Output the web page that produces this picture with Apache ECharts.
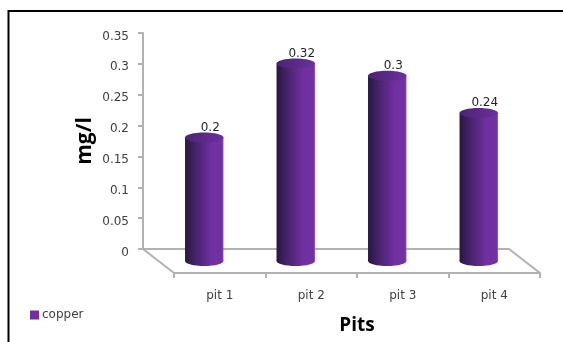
<!DOCTYPE html>
<html>
<head>
<meta charset="utf-8">
<style>html,body{margin:0;padding:0;background:#fff}#chart{width:563px;height:342px}</style>
<script src="https://cdn.jsdelivr.net/npm/echarts@6/dist/echarts.min.js"></script>
</head>
<body>
<div id="chart"></div>
<script>
// Copper concentration per pit
const categories = ['pit 1', 'pit 2', 'pit 3', 'pit 4'];
const copper = [0.2, 0.32, 0.3, 0.24];
const yTicks = { min: 0, max: 0.35, interval: 0.05 };

// Pseudo-3D layout: back wall, bar plane and front floor edge share one size
const plotW = 366, plotH = 216;
const backX = 143, backY = 33;
const depthX = 31, depthY = 24;
const axisGrey = '#b2b2b2';
const axisWidth = 2;
const textGrey = '#404040';
const labelFont = '"DejaVu Sans", sans-serif';

function grad(stops) {
  return new echarts.graphic.LinearGradient(0, 0, 1, 0,
    stops.map(s => ({ offset: s[0], color: s[1] })));
}
const bodyStops = [[0, '#2a1642'], [0.3, '#48246e'], [0.68, '#7030a0'], [0.96, '#7131a1'], [1, '#8c5ab8']];
const capStops = [[0, '#4a2474'], [0.6, '#5f2b8c'], [1, '#6c2f9c']];

// Draws one cylinder from its value through the grid's scales
function cylinder(params, api) {
  const top = api.coord([api.value(0), api.value(1)]);
  const base = api.coord([api.value(0), 0]);
  const r = api.size([1, 0])[0] * 0.21;
  const ry = 5;
  return {
    type: 'group',
    children: [
      { type: 'ellipse', shape: { cx: top[0], cy: base[1], rx: r, ry: ry }, style: { fill: grad(bodyStops) } },
      { type: 'rect', shape: { x: top[0] - r, y: top[1], width: 2 * r, height: base[1] - top[1] }, style: { fill: grad(bodyStops) } },
      { type: 'ellipse', shape: { cx: top[0], cy: top[1], rx: r, ry: ry }, style: { fill: grad(capStops) } },
      {
        type: 'text', x: top[0] + 6, y: top[1] - 10,
        style: { text: String(api.value(1)), fill: '#262626', font: '12px ' + labelFont, align: 'center', verticalAlign: 'middle' }
      }
    ]
  };
}

const chart = echarts.init(document.getElementById('chart'), null, { renderer: 'canvas' });
chart.setOption({
  animation: false,
  backgroundColor: '#fff',
  legend: {
    left: 30, top: 309, orient: 'vertical', itemWidth: 9, itemHeight: 9, itemGap: 0,
    icon: 'rect', padding: 0,
    data: ['copper'],
    textStyle: { fontFamily: labelFont, fontSize: 12, color: textGrey, padding: [0, 0, 2, -2] }
  },
  grid: [
    { left: backX, top: backY, width: plotW, height: plotH },
    { left: backX + depthX, top: backY + depthY, width: plotW, height: plotH },
    { left: backX + depthX / 2, top: backY + depthY / 2, width: plotW, height: plotH }
  ],
  xAxis: [
    { gridIndex: 0, type: 'category', data: categories,
      axisLine: { lineStyle: { color: axisGrey, width: axisWidth } }, axisTick: { show: false }, axisLabel: { show: false } },
    { gridIndex: 1, type: 'category', data: categories,
      name: 'Pits', nameLocation: 'middle', nameGap: 43, nameMoveOverlap: false,
      nameTextStyle: { fontFamily: '"Open Sans", sans-serif', fontWeight: 'bold', fontSize: 19, color: '#000' },
      axisLine: { lineStyle: { color: axisGrey, width: axisWidth } },
      axisTick: { show: true, length: 5, lineStyle: { color: axisGrey, width: axisWidth } },
      axisLabel: { margin: 17, fontFamily: labelFont, fontSize: 12, color: textGrey } },
    { gridIndex: 2, type: 'category', data: categories, show: false }
  ],
  yAxis: [
    { gridIndex: 0, type: 'value', min: yTicks.min, max: yTicks.max, interval: yTicks.interval,
      name: 'mg/l', nameLocation: 'middle', nameGap: 47, nameRotate: 90, nameMoveOverlap: false,
      nameTextStyle: { fontFamily: '"Open Sans", sans-serif', fontWeight: 'bold', fontSize: 21, color: '#000' },
      splitLine: { show: false },
      axisLine: { show: true, lineStyle: { color: axisGrey, width: axisWidth } },
      axisTick: { show: true, length: 5, lineStyle: { color: axisGrey, width: axisWidth } },
      axisLabel: {
        margin: 14, color: textGrey,
        formatter: v => '{v|' + v + '}',
        rich: { v: { fontFamily: labelFont, fontSize: 12, color: textGrey, padding: [7, 0, 0, 0] } }
      } },
    { gridIndex: 1, type: 'value', min: yTicks.min, max: yTicks.max, interval: yTicks.interval, show: false },
    { gridIndex: 2, type: 'value', min: yTicks.min, max: yTicks.max, interval: yTicks.interval, show: false }
  ],
  series: [{
    name: 'copper',
    type: 'custom',
    xAxisIndex: 2, yAxisIndex: 2,
    itemStyle: { color: '#7030a0' },
    renderItem: cylinder,
    encode: { x: 0, y: 1 },
    data: categories.map((c, i) => [i, copper[i]])
  }],
  graphic: [
    // Floor edges joining the back wall to the front axis
    { type: 'line', silent: true, shape: { x1: backX, y1: backY + plotH, x2: backX + depthX, y2: backY + plotH + depthY },
      style: { stroke: axisGrey, lineWidth: axisWidth } },
    { type: 'line', silent: true, shape: { x1: backX + plotW, y1: backY + plotH, x2: backX + plotW + depthX, y2: backY + plotH + depthY },
      style: { stroke: axisGrey, lineWidth: axisWidth } },
    // Frame along the top and left edges
    { type: 'polyline', silent: true, shape: { points: [[8.5, 342], [8.5, 11], [563, 11]] },
      style: { stroke: '#000', lineWidth: 2, fill: 'none' } }
  ]
});
</script>
</body>
</html>
